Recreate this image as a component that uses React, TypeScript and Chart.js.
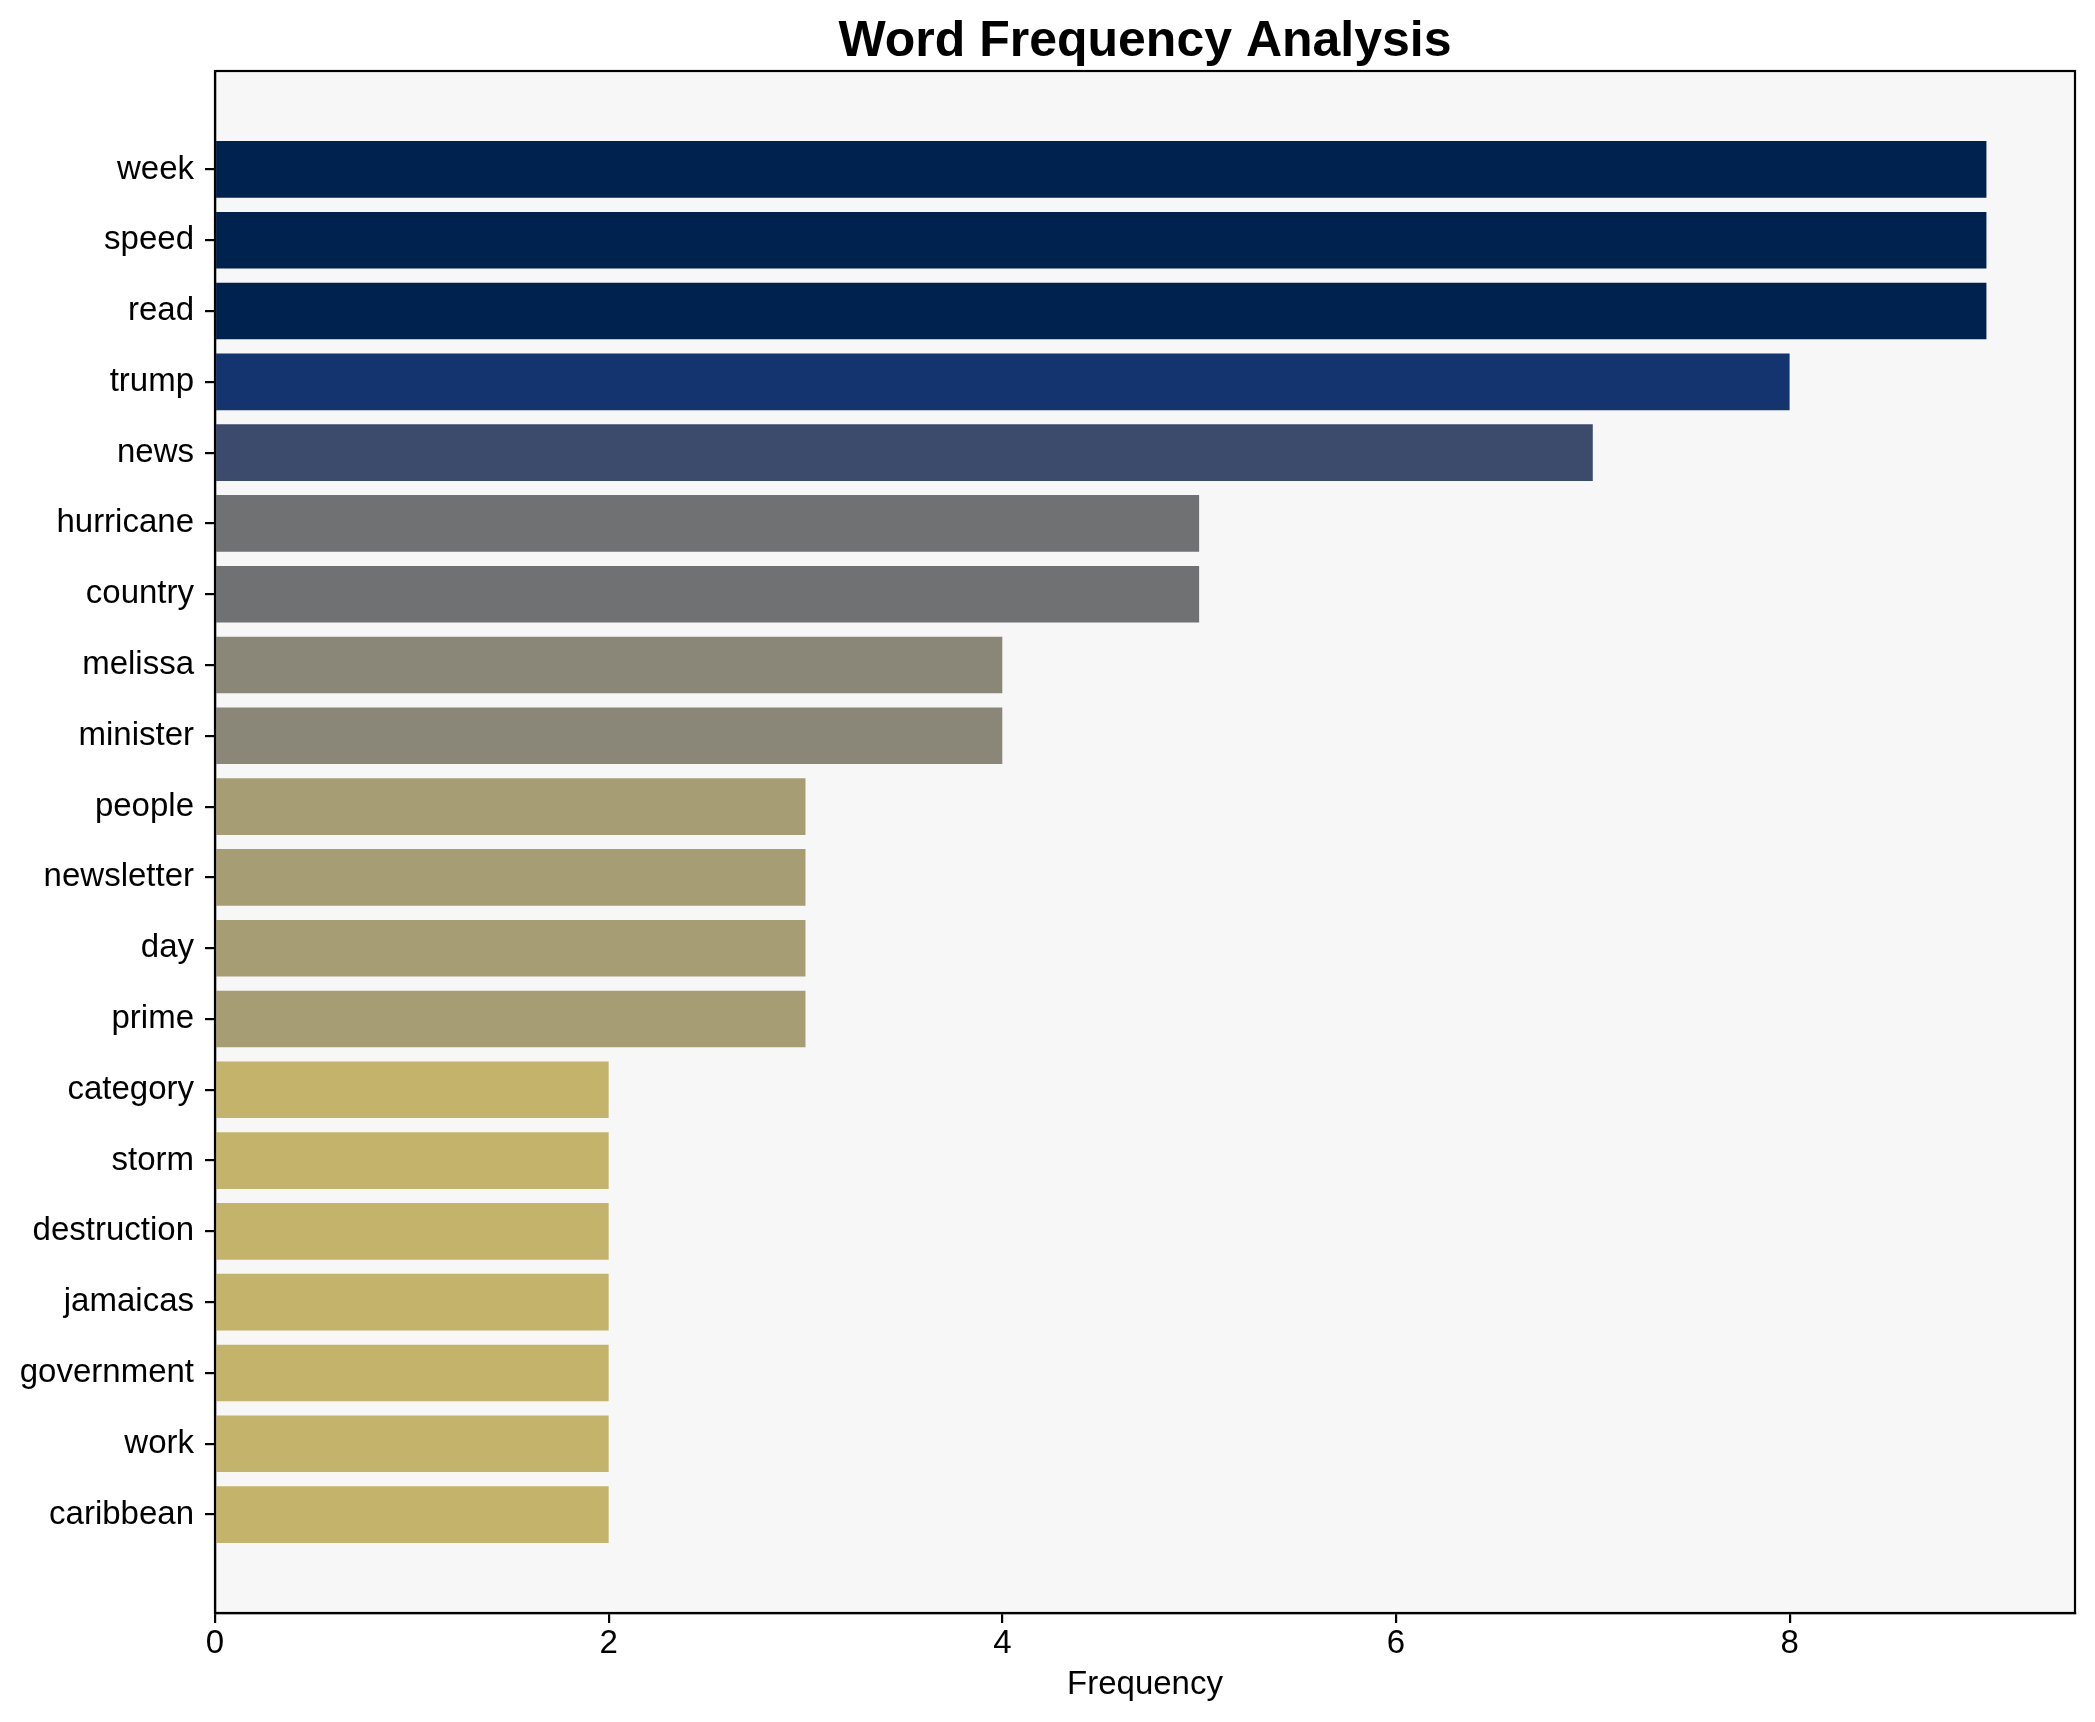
import React, { useEffect, useRef } from "react";
import { Chart, registerables } from "chart.js";

Chart.register(...registerables);

const words = [
  "week", "speed", "read", "trump", "news", "hurricane", "country", "melissa", "minister", "people",
  "newsletter", "day", "prime", "category", "storm", "destruction", "jamaicas", "government", "work", "caribbean",
];
const frequencies = [9, 9, 9, 8, 7, 5, 5, 4, 4, 3, 3, 3, 3, 2, 2, 2, 2, 2, 2, 2];
const xTickValues = [0, 2, 4, 6, 8];
const colorByFrequency: Record<number, string> = {
  9: "#00224e",
  8: "#13346f",
  7: "#3c4a6c",
  5: "#707173",
  4: "#8a8779",
  3: "#a69d75",
  2: "#c4b46b",
};

const FONT = "'Liberation Sans', Arial, Helvetica, sans-serif";
const W = 2095;
const H = 1722;

export default function App() {
  const ref = useRef<HTMLCanvasElement | null>(null);

  useEffect(() => {
    document.body.style.margin = "0";
    const canvas = ref.current;
    if (!canvas) return;

    const n = words.length;
    const margin = 0.05 * (n - 1 + 0.8);
    const yMin = -0.4 - margin;
    const yMax = n - 1 + 0.4 + margin;
    const xMax = Math.max(...frequencies) * 1.05;

    const framePlugin = {
      id: "frame",
      beforeDraw(chart: any) {
        const { ctx, chartArea } = chart;
        ctx.save();
        ctx.fillStyle = "#ffffff";
        ctx.fillRect(0, 0, chart.width, chart.height);
        ctx.fillStyle = "#f7f7f7";
        ctx.fillRect(chartArea.left, chartArea.top, chartArea.right - chartArea.left, chartArea.bottom - chartArea.top);
        ctx.restore();
      },
      afterDraw(chart: any) {
        const { ctx, chartArea } = chart;
        ctx.save();
        ctx.strokeStyle = "#000000";
        ctx.lineWidth = 2.2;
        ctx.strokeRect(chartArea.left, chartArea.top, chartArea.right - chartArea.left, chartArea.bottom - chartArea.top);
        ctx.restore();
      },
    };

    const chart = new Chart(canvas, {
      type: "bar",
      data: {
        datasets: [
          {
            label: "Frequency",
            data: frequencies.map((v, i) => ({ x: v, y: i })),
            backgroundColor: frequencies.map((v) => colorByFrequency[v]),
            borderWidth: 0,
            categoryPercentage: 1,
            barPercentage: 0.8,
          },
        ],
      },
      options: {
        indexAxis: "y",
        animation: false,
        responsive: false,
        devicePixelRatio: 1,
        layout: { padding: { top: 0, right: 20, bottom: 0, left: 0 } },
        plugins: {
          legend: { display: false },
          tooltip: { enabled: false },
          title: {
            display: true,
            fullSize: false,
            text: "Word Frequency Analysis",
            color: "#000000",
            font: { family: FONT, size: 50, weight: "bold", lineHeight: 1.16 },
            padding: { top: 13, bottom: 0 },
          },
        },
        scales: {
          x: {
            type: "linear",
            position: "bottom",
            min: 0,
            max: xMax,
            afterBuildTicks: (s: any) => {
              s.ticks = xTickValues.map((v) => ({ value: v }));
            },
            afterFit: (s: any) => {
              s.height = 109;
            },
            ticks: {
              color: "#000000",
              font: { family: FONT, size: 33, lineHeight: 1 },
              padding: 4,
              autoSkip: false,
              maxRotation: 0,
            },
            grid: {
              drawOnChartArea: false,
              drawTicks: true,
              tickLength: 10,
              color: "#000000",
              lineWidth: 2.2,
            },
            border: { display: true, color: "#000000", width: 2.2 },
            title: {
              display: true,
              text: "Frequency",
              color: "#000000",
              font: { family: FONT, size: 33, lineHeight: 1 },
              padding: { top: 0, bottom: 21 },
            },
          },
          y: {
            type: "linear",
            reverse: true,
            offset: false,
            min: yMin,
            max: yMax,
            afterBuildTicks: (s: any) => {
              s.ticks = words.map((_, i) => ({ value: i }));
            },
            afterFit: (s: any) => {
              s.width = 215;
            },
            ticks: {
              color: "#000000",
              font: { family: FONT, size: 33, lineHeight: 1 },
              padding: 11,
              autoSkip: false,
              callback: (v: any) => words[v as number] ?? "",
            },
            grid: {
              offset: false,
              drawOnChartArea: false,
              drawTicks: true,
              tickLength: 10,
              color: "#000000",
              lineWidth: 2.2,
            },
            border: { display: true, color: "#000000", width: 2.2 },
          },
        },
      },
      plugins: [framePlugin],
    } as any);

    return () => chart.destroy();
  }, []);

  return <canvas ref={ref} width={W} height={H} style={{ display: "block", width: W, height: H }} />;
}
